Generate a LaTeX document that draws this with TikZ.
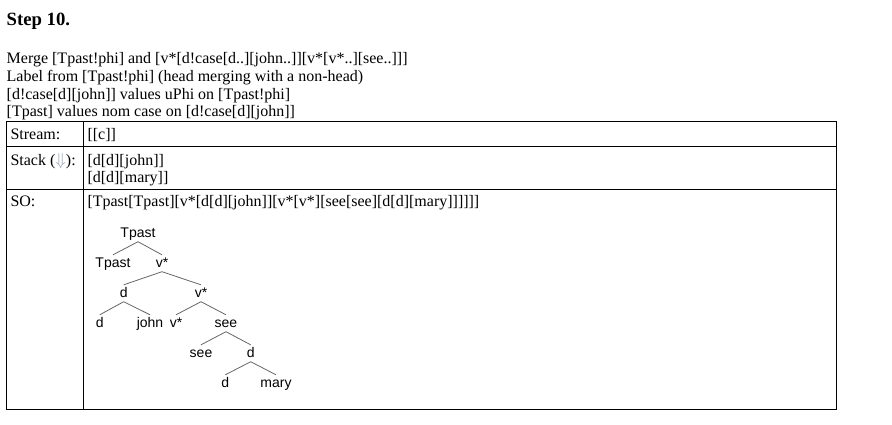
\documentclass[tikz,border=0pt]{standalone}
\usepackage{fontspec}
\setmainfont{Liberation Serif}
\newfontfamily\treefont{Liberation Sans}
\usepackage{tikz}
\definecolor{arrowgray}{RGB}{150,160,178}

\begin{document}
\begin{tikzpicture}[x=1pt, y=-1pt,
    txt/.style={anchor=base west, inner sep=0pt, font=\fontsize{16}{18}\selectfont},
    leaf/.style={anchor=base, inner sep=1.5pt, text height=10.5pt, text depth=3pt,
        font=\treefont\fontsize{14}{16}\selectfont},
    branch/.style={black!60, line width=0.8pt},
    rule/.style={line width=1pt}]

    \useasboundingbox (0,0) rectangle (892,424);

    % Heading
    \node[txt, font=\bfseries\fontsize{18.7}{22}\selectfont] (title) at (6.5,25) {Step 10.};

    % Description
    \node[txt] (l1) at (6.5,63.8) {Merge [Tpast!phi] and [v*[d!case[d..][john..]][v*[v*..][see..]]]};
    \node[txt] (l2) at (6.5,81.6) {Label from [Tpast!phi] (head merging with a non-head)};
    \node[txt] (l3) at (6.5,99.3) {[d!case[d][john]] values uPhi on [Tpast!phi]};
    \node[txt] (l4) at (6.5,116.9) {[Tpast] values nom case on [d!case[d][john]]};

    % Table frame
    \draw[rule] (6,121.5) rectangle (836,409);
    \draw[rule] (6,146) -- (836,146);
    \draw[rule] (6,189.3) -- (836,189.3);
    \draw[rule] (83.3,121.5) -- (83.3,409);

    % Table cells
    \node[txt] (stream) at (10.3,139.3) {Stream:};
    \node[txt] (streamv) at (87.3,139.3) {[[c]]};
    \node[txt] (stack) at (10.3,165) {Stack ({\color{arrowgray}$\Downarrow$}):};
    \node[txt] (stackv1) at (87.3,165) {[d[d][john]]};
    \node[txt] (stackv2) at (87.3,182.2) {[d[d][mary]]};
    \node[txt] (so) at (10.3,206.7) {SO:};
    \node[txt] (sov) at (87.3,206.7) {[Tpast[Tpast][v*[d[d][john]][v*[v*][see[see][d[d][mary]]]]]]};

    % Tree
    \node[leaf] (rT) at (138,237) {Tpast};
    \node[leaf] (tT) at (113,267) {Tpast};
    \node[leaf] (v1) at (162,267) {v*};
    \node[leaf] (d1) at (123.7,297) {d};
    \node[leaf] (v2) at (201,297) {v*};
    \node[leaf] (d2) at (99.7,327) {d};
    \node[leaf] (jn) at (150,327) {john};
    \node[leaf] (v3) at (176,327) {v*};
    \node[leaf] (s1) at (226,327) {see};
    \node[leaf] (s2) at (201,357) {see};
    \node[leaf] (d3) at (250.7,357) {d};
    \node[leaf] (d4) at (225.3,387) {d};
    \node[leaf] (mr) at (276,387) {mary};

    \foreach \p/\c in {rT/tT, rT/v1, v1/d1, v1/v2, d1/d2, d1/jn, v2/v3, v2/s1,
                       s1/s2, s1/d3, d3/d4, d3/mr} {
        \draw[branch] (\p.south) -- (\c.north);
    }
\end{tikzpicture}
\end{document}
